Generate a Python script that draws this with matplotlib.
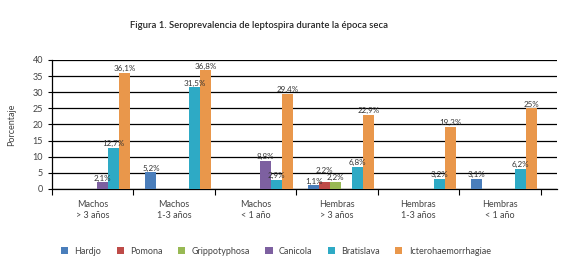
import numpy as np
import matplotlib
matplotlib.use('Agg')
from matplotlib import pyplot as plt

plt.rcParams['font.family'] = ['Lato', 'DejaVu Sans']

groups = ['Machos\n> 3 años', 'Machos\n1-3 años', 'Machos\n< 1 año',
          'Hembras\n> 3 años', 'Hembras\n1-3 años', 'Hembras\n< 1 año']
series = ['Hardjo', 'Pomona', 'Grippotyphosa', 'Canicola', 'Bratislava', 'Icterohaemorrhagiae']
colors = ['#4a7ebb', '#be4b48', '#98b954', '#7d60a0', '#2eaac5', '#e9974b']

# None = no bar in that group
hardjo = [None, 5.2, None, 1.1, None, 3.1]
pomona = [None, None, None, 2.2, None, None]
grippo = [None, None, None, 2.2, None, None]
canicola = [2.1, None, 8.8, None, None, None]
bratislava = [12.7, 31.5, 2.9, 6.8, 3.2, 6.2]
ictero = [36.1, 36.8, 29.4, 22.9, 19.3, 25]
values = [hardjo, pomona, grippo, canicola, bratislava, ictero]

fig = plt.figure(figsize=(5.63, 2.7), dpi=100)
ax = fig.add_axes([0.0924, 0.30, 0.8966, 0.478])

w = 0.135
start = 0.147
for s, (name, vals, c) in enumerate(zip(series, values, colors)):
    xs = [g + start + s * w for g in range(len(groups)) if vals[g] is not None]
    ys = [v for v in vals if v is not None]
    ax.bar(xs, ys, width=w, align='edge', color=c, label=name, zorder=3)
    for x, y in zip(xs, ys):
        txt = ('%g' % y).replace('.', ',') + '%'
        dy = 0.2
        if name == 'Pomona':
            dy = 2.4
        ax.text(x + w / 2, y + dy, txt, ha='center', va='bottom',
                fontsize=5.8, color='#333333', zorder=4)

ax.set_xlim(0, 6.2)
ax.set_ylim(0, 40)
ax.set_yticks(range(0, 41, 5))
ax.yaxis.grid(True, color='black', linewidth=0.9, zorder=0)
ax.set_xticks(range(0, 7))
ax.set_xticklabels([])
ax.set_xticks([g + 0.5 for g in range(len(groups))], minor=True)
ax.set_xticklabels(groups, minor=True, fontsize=6.5, color='#444444')
ax.tick_params(axis='x', which='minor', length=0, pad=8)
ax.tick_params(axis='x', which='major', length=4, direction='out', color='black')
ax.tick_params(axis='y', labelsize=6.5, labelcolor='#444444', length=3)
for sp in ['top', 'right']:
    ax.spines[sp].set_visible(False)
ax.spines['left'].set_linewidth(0.9)
ax.spines['bottom'].set_linewidth(0.9)
ax.set_ylabel('Porcentaje', fontsize=6.5, color='#444444', labelpad=12)

fig.text(0.46, 0.907, 'Figura 1. Seroprevalencia de leptospira durante la época seca',
         ha='center', va='center', fontsize=6.8, fontweight='semibold', color='#222222')

fig.legend(loc='center', bbox_to_anchor=(0.49, 0.07), ncol=6, frameon=False,
           fontsize=6.5, handlelength=0.8, handleheight=0.8, columnspacing=1.7,
           handletextpad=0.7, labelcolor='#444444')

fig.savefig('out.png', dpi=100)
